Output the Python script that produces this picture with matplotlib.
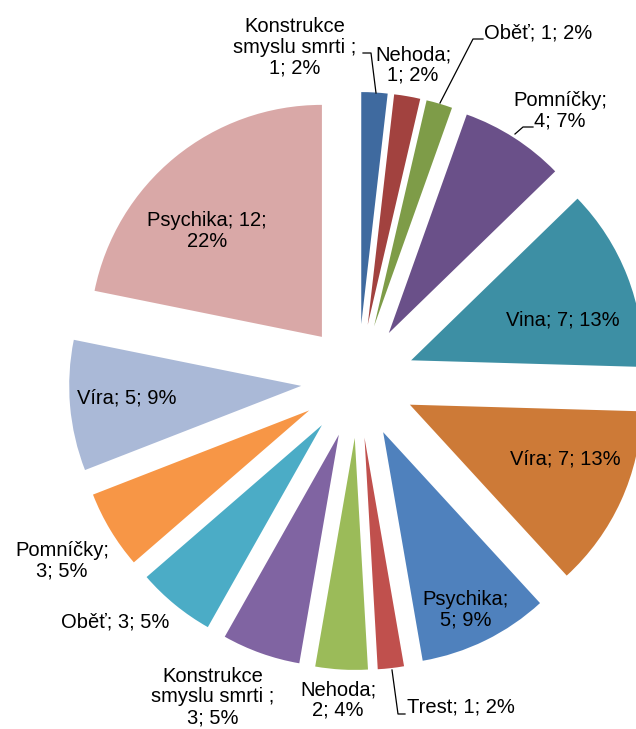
import matplotlib
matplotlib.use("Agg")
import matplotlib.pyplot as plt

names = ["Konstrukce smyslu smrti ", "Nehoda", "Oběť", "Pomníčky", "Vina", "Víra",
         "Psychika", "Trest", "Nehoda", "Konstrukce smyslu smrti ", "Oběť", "Pomníčky",
         "Víra", "Psychika"]
values = [1, 1, 1, 4, 7, 7, 5, 1, 2, 3, 3, 3, 5, 12]
colors = ["#3F6A9F", "#A2423F", "#7E9C48", "#6A5089", "#3D8FA4", "#CD7A37",
          "#4F81BD", "#C0504D", "#9BBB59", "#8064A2", "#4BACC6", "#F79646",
          "#AAB9D7", "#D9A8A7"]

# label wrap style: 0 one line, 1 break after name, 2 break before percent, 3 name split
wrap = [3, 1, 0, 1, 0, 0, 1, 0, 1, 3, 0, 1, 0, 2]
# label centres in pixel coordinates (x, y from top)
label_pos = [(295, 47), (413, 65), (538, 33), (560, 111), (563, 320), (565, 459),
             (466, 610), (461, 707), (338, 700), (213, 697), (115, 622), (62, 561),
             (127, 398), (207, 231)]
leaders = {0: [(363, 53), (371, 53), (376, 93)],
           2: [(483, 39), (473, 39), (440, 103)],
           3: [(533, 127), (523, 127), (515, 134)],
           7: [(405, 714), (398, 714), (392, 670)]}

W, H = 636, 729
fig = plt.figure(figsize=(W / 100, H / 100), dpi=100)
ax = fig.add_axes([0, 0, 1, 1])

total = sum(values)
cx, cy, R, d = 358, H - 381, 232, 57
ax.pie(values, colors=colors, radius=R, center=(cx, cy), explode=[d] * len(values),
       startangle=90, counterclock=False, wedgeprops=dict(linewidth=0))
ax.set_xlim(0, W)
ax.set_ylim(0, H)
ax.set_aspect("auto")
ax.axis("off")

for i, (n, v) in enumerate(zip(names, values)):
    p = round(v / total * 100)
    if wrap[i] == 0:
        t = f"{n}; {v}; {p}%"
    elif wrap[i] == 1:
        t = f"{n};\n{v}; {p}%"
    elif wrap[i] == 2:
        t = f"{n}; {v};\n{p}%"
    else:
        a, b = n.strip().split(" ", 1)
        t = f"{a}\n{b} ;\n{v}; {p}%"
    x, y = label_pos[i]
    ax.text(x, H - y, t, ha="center", va="center", fontsize=14.5,
            family=["Liberation Sans", "DejaVu Sans"], color="black", linespacing=1.1)

for i, pts in leaders.items():
    ax.plot([q[0] for q in pts], [H - q[1] for q in pts], color="black", lw=0.9)

fig.savefig("out.png", dpi=100)
